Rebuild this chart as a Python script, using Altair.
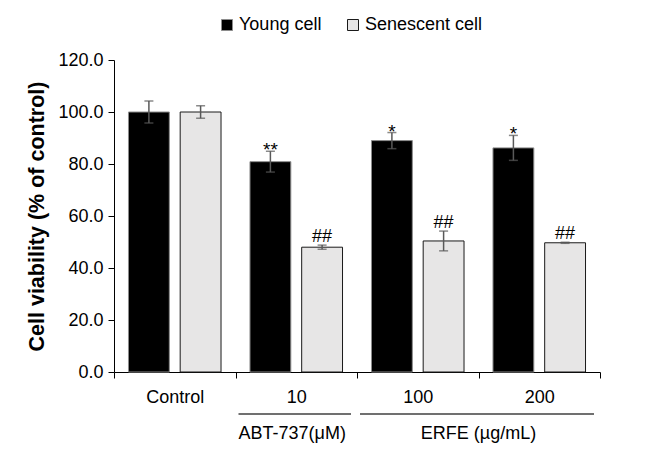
import altair as alt
import pandas as pd

# ---- data ----
categories = ["Control", "10", "100", "200"]
series = ["Young cell", "Senescent cell"]
young = [100.0, 80.9, 89.0, 86.2]
young_err = [4.2, 4.0, 3.1, 4.8]
senescent = [100.0, 48.0, 50.4, 49.7]
senescent_err = [2.4, 0.8, 3.8, 0.2]
young_sig = ["", "**", "*", "*"]
senescent_sig = ["", "##", "##", "##"]
groups = ["ABT-737(μM)", "ERFE (µg/mL)"]
group_start = ["10", "100"]
group_end = ["10", "200"]

rows = []
for i, c in enumerate(categories):
    rows.append(dict(cat=c, series=series[0], value=young[i], err=young_err[i], sig=young_sig[i]))
    rows.append(dict(cat=c, series=series[1], value=senescent[i], err=senescent_err[i], sig=senescent_sig[i]))
df = pd.DataFrame(rows)
df["lo"] = df["value"] - df["err"]
df["hi"] = df["value"] + df["err"]

gdf = pd.DataFrame({"group": groups, "start": group_start, "end": group_end})

FONT = "Liberation Sans"
xscale = alt.Scale(domain=categories, paddingInner=0, paddingOuter=0)
xoff = alt.Scale(domain=series, paddingInner=0.21, paddingOuter=0.28)
yscale = alt.Scale(domain=[0, 120])

legend = alt.Legend(
    title=None, orient="none", legendX=104, legendY=-44, direction="horizontal",
    symbolType="square", symbolSize=121, symbolStrokeWidth=1,
    labelFontSize=18, labelColor="black", labelOffset=3, columnPadding=22, padding=0,
)

base = alt.Chart(df).encode(
    x=alt.X("cat:N", scale=xscale, sort=categories, title=None),
    xOffset=alt.XOffset("series:N", scale=xoff, sort=series),
)

bars = base.mark_bar(strokeWidth=1).encode(
    y=alt.Y(
        "value:Q", scale=yscale,
        axis=alt.Axis(
            title="Cell viability (% of control)", values=[0, 20, 40, 60, 80, 100, 120],
            format=".1f", grid=False, tickSize=6, labelFontSize=18, labelColor="black",
            labelPadding=5, titleFontSize=21.5, titleFontWeight="bold", titleColor="black",
            titlePadding=9, domainColor="black", tickColor="black",
        ),
    ),
    fill=alt.Fill("series:N", scale=alt.Scale(domain=series, range=["#000000", "#E7E6E6"]), legend=legend),
    stroke=alt.Stroke("series:N", scale=alt.Scale(domain=series, range=["#8c8c8c", "#1a1a1a"]), legend=legend),
)

err_rule = base.mark_rule(color="#595959", strokeWidth=1.5).encode(
    y=alt.Y("lo:Q", scale=yscale), y2="hi:Q"
)
cap_hi = base.mark_tick(color="#595959", thickness=1.5, size=9).encode(y=alt.Y("hi:Q", scale=yscale))
cap_lo = base.mark_tick(color="#595959", thickness=1.5, size=9).encode(y=alt.Y("lo:Q", scale=yscale))

sig_young = base.mark_text(fontSize=19, dy=-1, color="black").encode(
    y=alt.Y("hi:Q", scale=yscale), text="sig:N"
).transform_filter(alt.datum.series == series[0])
sig_sen = base.mark_text(fontSize=18, dy=-8, color="black").encode(
    y=alt.Y("hi:Q", scale=yscale), text="sig:N"
).transform_filter(alt.datum.series == series[1])

group_lines = alt.Chart(gdf).mark_rule(color="#404040", strokeWidth=1.5, xOffset=3, x2Offset=-6).encode(
    x=alt.X("start:N", scale=xscale, sort=categories, bandPosition=0, title=None),
    x2=alt.X2("end:N", bandPosition=1),
    y=alt.value(354),
)
group_text_a = alt.Chart(gdf).mark_text(fontSize=18, color="black", dx=-4).encode(
    x=alt.X("start:N", scale=xscale, sort=categories, bandPosition=0.5, title=None),
    y=alt.value(374),
    text="group:N",
).transform_filter(alt.datum.start == alt.datum.end)
group_text_b = alt.Chart(gdf).mark_text(fontSize=18, color="black").encode(
    x=alt.X("end:N", scale=xscale, sort=categories, bandPosition=0, title=None),
    y=alt.value(374),
    text="group:N",
).transform_filter(alt.datum.start != alt.datum.end)

chart = alt.layer(
    bars, err_rule, cap_hi, cap_lo, sig_young, sig_sen, group_lines, group_text_a, group_text_b
).properties(
    width=486, height=312, autosize="none",
    padding={"left": 106, "top": 52, "right": 40, "bottom": 74},
).configure(font=FONT).configure_view(stroke=None).configure_axisX(
    labelAngle=0, tickBand="extent", tickSize=6, labelFontSize=18, labelColor="black",
    labelPadding=10, domainColor="black", tickColor="black", title=None,
)

chart.save("out.html", embed_options={"renderer": "svg", "actions": False})
